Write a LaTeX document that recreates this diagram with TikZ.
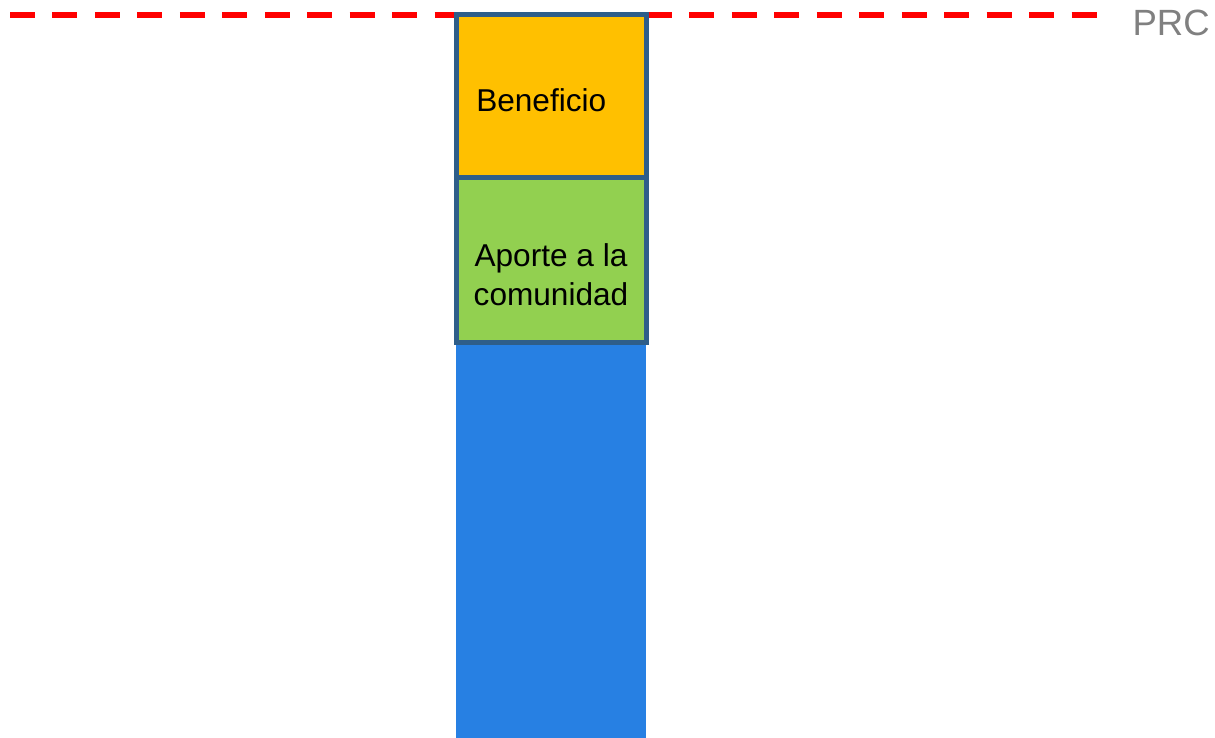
\documentclass[tikz,border=0pt]{standalone}
\usepackage{fontspec}
\setmainfont{Liberation Sans}
\usetikzlibrary{positioning}

\definecolor{benef}{RGB}{255,192,0}
\definecolor{aporte}{RGB}{146,208,80}
\definecolor{costo}{RGB}{39,128,227}
\definecolor{borde}{RGB}{46,94,138}
\definecolor{prcgray}{RGB}{128,128,128}

\begin{document}
\begin{tikzpicture}[
  x=0.75pt, y=-0.75pt,
  bar/.style={rectangle, draw=borde, line width=3.75pt, minimum width=142.5pt, outer sep=0pt, inner sep=0pt},
  plain/.style={rectangle, minimum width=142.5pt, outer sep=0pt, inner sep=0pt},
  txt/.style={font=\fontsize{23.7}{29.2}\selectfont, align=center, inner sep=0pt},
  prcline/.style={red, line width=4.5pt, dash pattern=on 18.75pt off 13.1pt},
  node distance=0pt
]
\useasboundingbox (0,0) rectangle (1215,738);

% Reference line
\coordinate (lineL) at (10,15.5);
\coordinate (lineR) at (1100,15.5);
\draw[prcline] (lineL) -- (lineR);
\node[txt, anchor=east, text=prcgray, font=\fontsize{27.4}{32}\selectfont] (prc) at (1210,23) {PRC};

% Column
\begin{scope}
\clip (0,0) rectangle (1215,738);
\node[plain, fill=costo, minimum height=300pt, anchor=north] (costo) at (551,342) {};
\end{scope}
\node[bar, fill=aporte, minimum height=123pt, anchor=south] (aporte) at (551,342) {};
\node[bar, fill=benef, minimum height=122.25pt, above=of aporte] (benef) {};

% Labels
\node[txt, anchor=west] (benefT) at ([xshift=15pt, yshift=-3pt]benef.west) {Beneficio};
\node[txt] (aporteT) at ([yshift=-11pt]aporte.center) {Aporte a la\\comunidad};

\end{tikzpicture}
\end{document}
